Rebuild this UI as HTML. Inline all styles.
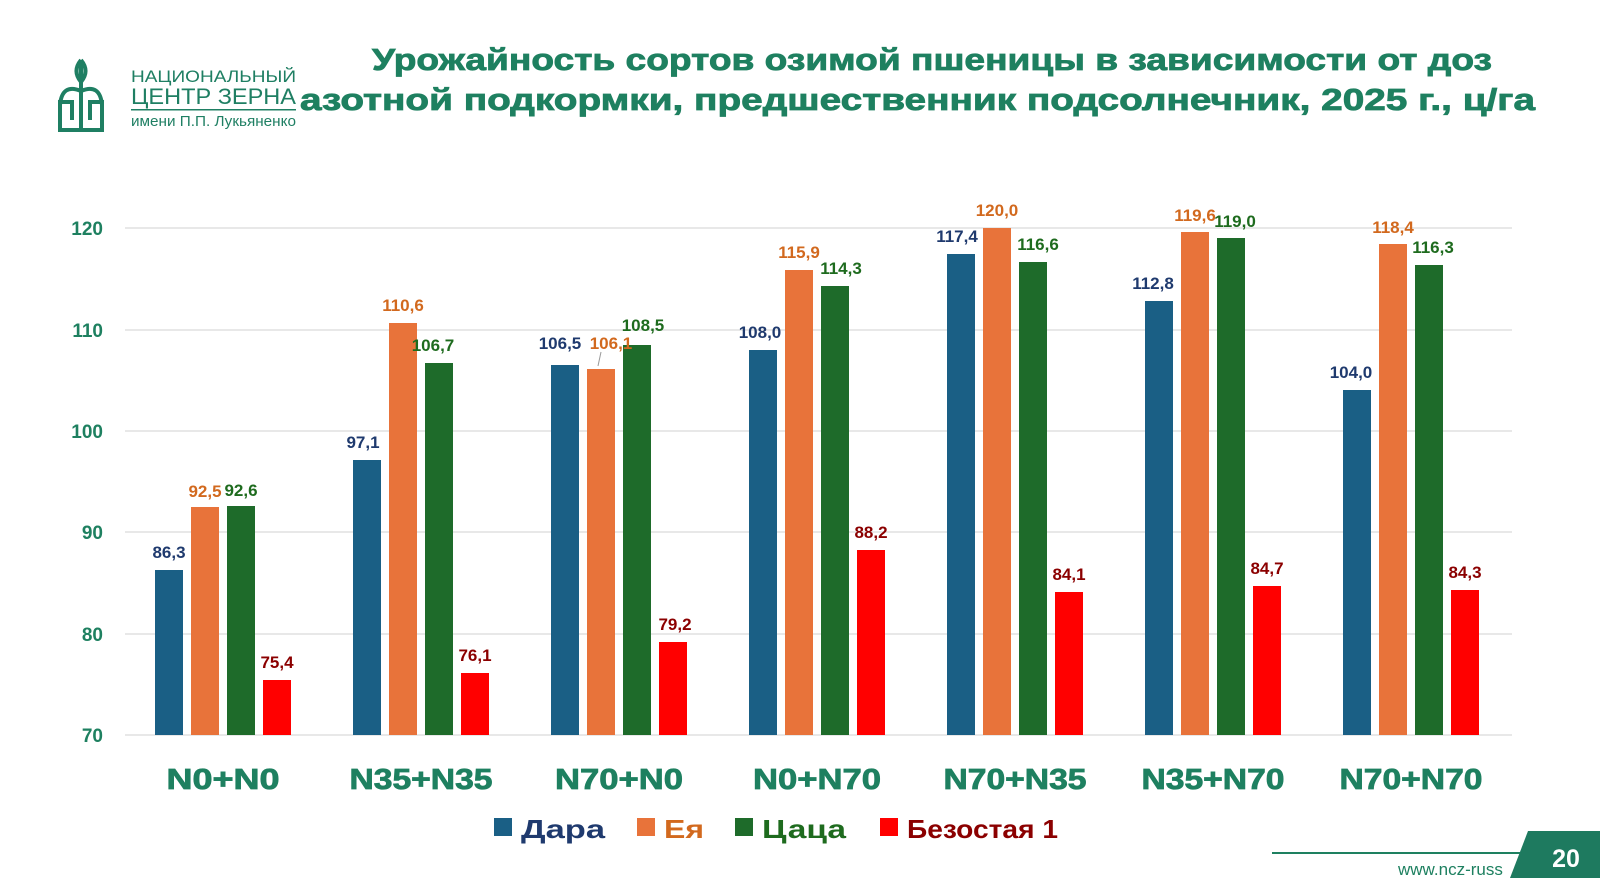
<!DOCTYPE html>
<html><head><meta charset="utf-8"><style>
body{margin:0;background:#fff;}
svg{display:block;font-family:"Liberation Sans","DejaVu Sans",sans-serif;}
</style></head><body>
<svg width="1600" height="878" viewBox="0 0 1600 878" xmlns="http://www.w3.org/2000/svg">
<rect width="1600" height="878" fill="#fff"/>
<!-- logo -->
<g fill="none" stroke="#1f7f63" stroke-width="4">
<path d="M81 130 V62 M81 60 q-9 11 0 22 q9 -11 0 -22"/>
<path d="M60 105 q2 -22 21 -14 M102 105 q-2 -22 -21 -14"/>
<path d="M60 130 V102 h12 v18 M102 130 V102 h-12 v18 M58 130 h46"/>
</g>
<g fill="#1f7f63" font-size="17">
<text x="131" y="82" textLength="165" lengthAdjust="spacingAndGlyphs">НАЦИОНАЛЬНЫЙ</text>
<text x="131" y="104" font-size="22" textLength="165" lengthAdjust="spacingAndGlyphs">ЦЕНТР ЗЕРНА</text>
<rect x="131" y="109" width="165" height="1.5"/>
<text x="131" y="126" font-size="15" textLength="165" lengthAdjust="spacingAndGlyphs">имени П.П. Лукьяненко</text>
</g>
<!-- title -->
<g fill="#1e8060" stroke="#1e8060" stroke-width="0.8" font-weight="bold" font-size="31">
<text x="372" y="70" textLength="1120" lengthAdjust="spacingAndGlyphs">Урожайность сортов озимой пшеницы в зависимости от доз</text>
<text x="300" y="110" textLength="1235" lengthAdjust="spacingAndGlyphs">азотной подкормки, предшественник подсолнечник, 2025 г., ц/га</text>
</g>
<!-- grid -->
<g stroke="#d9d9d9" stroke-width="1.2">
<line x1="125" x2="1512" y1="228" y2="228"/><line x1="125" x2="1512" y1="330" y2="330"/>
<line x1="125" x2="1512" y1="431" y2="431"/><line x1="125" x2="1512" y1="532" y2="532"/>
<line x1="125" x2="1512" y1="634" y2="634"/><line x1="125" x2="1512" y1="735" y2="735"/>
</g>
<g fill="#1e8060" font-weight="bold" font-size="19" text-anchor="end">
<text x="103" y="235">120</text><text x="103" y="337">110</text><text x="103" y="438">100</text>
<text x="103" y="539">90</text><text x="103" y="641">80</text><text x="103" y="742">70</text>
</g>
<!-- bars -->
<g>
<g fill="#1a5f85">
<rect x="155" y="570" width="28" height="165"/><rect x="353" y="460" width="28" height="275"/>
<rect x="551" y="365" width="28" height="370"/><rect x="749" y="350" width="28" height="385"/>
<rect x="947" y="254" width="28" height="481"/><rect x="1145" y="301" width="28" height="434"/>
<rect x="1343" y="390" width="28" height="345"/>
</g>
<g fill="#e8733a">
<rect x="191" y="507" width="28" height="228"/><rect x="389" y="323" width="28" height="412"/>
<rect x="587" y="369" width="28" height="366"/><rect x="785" y="270" width="28" height="465"/>
<rect x="983" y="228" width="28" height="507"/><rect x="1181" y="232" width="28" height="503"/>
<rect x="1379" y="244" width="28" height="491"/>
</g>
<g fill="#1e6b2a">
<rect x="227" y="506" width="28" height="229"/><rect x="425" y="363" width="28" height="372"/>
<rect x="623" y="345" width="28" height="390"/><rect x="821" y="286" width="28" height="449"/>
<rect x="1019" y="262" width="28" height="473"/><rect x="1217" y="238" width="28" height="497"/>
<rect x="1415" y="265" width="28" height="470"/>
</g>
<g fill="#ff0000">
<rect x="263" y="680" width="28" height="55"/><rect x="461" y="673" width="28" height="62"/>
<rect x="659" y="642" width="28" height="93"/><rect x="857" y="550" width="28" height="185"/>
<rect x="1055" y="592" width="28" height="143"/><rect x="1253" y="586" width="28" height="149"/>
<rect x="1451" y="590" width="28" height="145"/>
</g>
</g>
<!-- labels -->
<g font-weight="bold" font-size="17" text-anchor="middle">
<g fill="#1f3a6e">
<text x="169" y="558">86,3</text><text x="363" y="448">97,1</text><text x="560" y="349">106,5</text>
<text x="760" y="338">108,0</text><text x="957" y="242">117,4</text><text x="1153" y="289">112,8</text>
<text x="1351" y="378">104,0</text>
</g>
<g fill="#d2691e">
<text x="205" y="497">92,5</text><text x="403" y="311">110,6</text><text x="611" y="349">106,1</text>
<text x="799" y="258">115,9</text><text x="997" y="216">120,0</text><text x="1195" y="221">119,6</text>
<text x="1393" y="233">118,4</text>
</g>
<line x1="601" y1="352" x2="598" y2="366" stroke="#999" stroke-width="1"/>
<g fill="#1e6b1e">
<text x="241" y="496">92,6</text><text x="433" y="351">106,7</text><text x="643" y="331">108,5</text>
<text x="841" y="274">114,3</text><text x="1038" y="250">116,6</text><text x="1235" y="227">119,0</text>
<text x="1433" y="253">116,3</text>
</g>
<g fill="#8b0000">
<text x="277" y="668">75,4</text><text x="475" y="661">76,1</text><text x="675" y="630">79,2</text>
<text x="871" y="538">88,2</text><text x="1069" y="580">84,1</text><text x="1267" y="574">84,7</text>
<text x="1465" y="578">84,3</text>
</g>
</g>
<!-- categories -->
<g fill="#1e8060" stroke="#1e8060" stroke-width="0.8" font-weight="bold" font-size="29" text-anchor="middle">
<text x="223" y="789" textLength="113" lengthAdjust="spacingAndGlyphs">N0+N0</text>
<text x="421" y="789" textLength="143" lengthAdjust="spacingAndGlyphs">N35+N35</text>
<text x="619" y="789" textLength="128" lengthAdjust="spacingAndGlyphs">N70+N0</text>
<text x="817" y="789" textLength="128" lengthAdjust="spacingAndGlyphs">N0+N70</text>
<text x="1015" y="789" textLength="143" lengthAdjust="spacingAndGlyphs">N70+N35</text>
<text x="1213" y="789" textLength="143" lengthAdjust="spacingAndGlyphs">N35+N70</text>
<text x="1411" y="789" textLength="143" lengthAdjust="spacingAndGlyphs">N70+N70</text>
</g>
<!-- legend -->
<g font-weight="bold" font-size="26">
<rect x="494" y="818" width="18" height="18" fill="#1a5f85"/><text x="521" y="838" fill="#1f3a6e" textLength="84" lengthAdjust="spacingAndGlyphs">Дара</text>
<rect x="637" y="818" width="18" height="18" fill="#e8733a"/><text x="664" y="838" fill="#d2691e" textLength="40" lengthAdjust="spacingAndGlyphs">Ея</text>
<rect x="735" y="818" width="18" height="18" fill="#1e6b2a"/><text x="762" y="838" fill="#1e6b1e" textLength="84" lengthAdjust="spacingAndGlyphs">Цаца</text>
<rect x="880" y="818" width="18" height="18" fill="#ff0000"/><text x="907" y="838" fill="#8b0000" textLength="151" lengthAdjust="spacingAndGlyphs">Безостая 1</text>
</g>
<!-- footer -->
<rect x="1272" y="852" width="250" height="2" fill="#1e8060"/>
<text x="1398" y="875" font-size="17" fill="#1e8060">www.ncz-russ</text>
<polygon points="1528,831 1600,831 1600,878 1510,878" fill="#1e7a5f"/>
<text x="1566" y="867" font-size="25" font-weight="bold" fill="#fff" text-anchor="middle">20</text>
</svg>
</body></html>
